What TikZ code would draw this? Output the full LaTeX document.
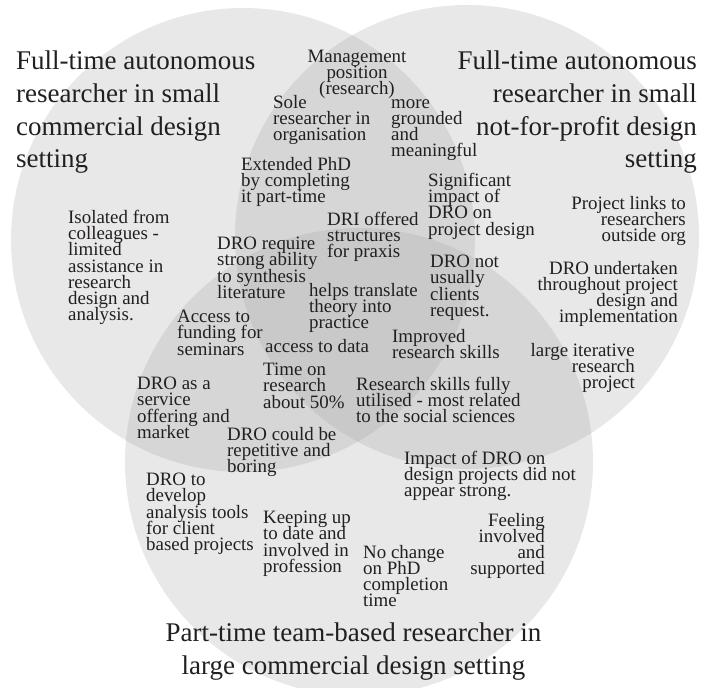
\documentclass[tikz,border=0pt]{standalone}
\usepackage{fontspec}
\setmainfont{Liberation Serif}
\definecolor{cone}{RGB}{232,232,232}
\definecolor{ctwo}{RGB}{214,214,214}
\definecolor{cthree}{RGB}{201,201,201}
\definecolor{txt}{RGB}{35,31,32}
\tikzset{
  sm/.style={font={\fontsize{18.9}{16.2}\selectfont\lineskiplimit=-100pt}, inner sep=0pt, text=txt, execute at begin node={\rule{0pt}{14pt}}},
  ttl/.style={font={\fontsize{27}{32.6}\selectfont\lineskiplimit=-100pt}, inner sep=0pt, text=txt, execute at begin node={\rule{0pt}{22pt}}},
  lw/.style={anchor=north west, align=left},
  rw/.style={anchor=north east, align=right},
  cw/.style={anchor=north, align=center}
}
\begin{document}
\begin{tikzpicture}[x=1pt,y=-1pt]
\useasboundingbox (0,0) rectangle (713,688);
\clip (0,0) rectangle (713,688);
% circles
\fill[cone] (243,240) circle[radius=232pt];
\fill[cone] (467,237) circle[radius=232pt];
\fill[cone] (359,462) circle[radius=234pt];
\begin{scope}
  \clip (243,240) circle[radius=232pt];
  \fill[ctwo] (467,237) circle[radius=232pt];
  \fill[ctwo] (359,462) circle[radius=234pt];
\end{scope}
\begin{scope}
  \clip (467,237) circle[radius=232pt];
  \fill[ctwo] (359,462) circle[radius=234pt];
\end{scope}
\begin{scope}
  \clip (243,240) circle[radius=232pt];
  \clip (467,237) circle[radius=232pt];
  \fill[cthree] (359,462) circle[radius=234pt];
\end{scope}
% titles
\node[ttl,lw] (tl) at (16,51) {Full-time autonomous\\researcher in small\\commercial design\\setting};
\node[ttl,rw] (tr) at (697,51) {Full-time autonomous\\researcher in small\\not-for-profit design\\setting};
\node[ttl,cw] (tb) at (353.5,623) {Part-time team-based researcher in\\large commercial design setting};
% small texts
\node[sm,cw] (n3) at (357,50) {Management\\position\\(research)};
\node[sm,lw] (n4) at (273,95) {Sole\\researcher in\\organisation};
\node[sm,lw] (n5) at (391,99) {more\\grounded\\and\\meaningful};
\node[sm,lw] (n6) at (241,157) {Extended PhD\\by completing\\it part-time};
\node[sm,lw] (n7) at (428,173) {Significant\\impact of\\DRO on\\project design};
\node[sm,rw] (n8) at (686,196) {Project links to\\researchers\\outside org};
\node[sm,lw] (n9) at (68,210) {Isolated from\\colleagues -\\limited\\assistance in\\research\\design and\\analysis.};
\node[sm,lw] (n10) at (327,212) {DRI offered\\structures\\for praxis};
\node[sm,lw] (n11) at (217,237) {DRO require\\strong ability\\to synthesis\\literature};
\node[sm,lw] (n12) at (430,255) {DRO not\\usually\\clients\\request.};
\node[sm,rw] (n13) at (678,261) {DRO undertaken\\throughout project\\design and\\implementation};
\node[sm,lw] (n14) at (309,283) {helps translate\\theory into\\practice};
\node[sm,lw] (n15) at (177,310) {Access to\\funding for\\seminars};
\node[sm,lw] (n16) at (265,338) {access to data};
\node[sm,lw] (n17) at (392,329) {Improved\\research skills};
\node[sm,rw] (n18) at (635,343) {large iterative\\research\\project};
\node[sm,lw] (n19) at (263,363) {Time on\\research\\about 50\%};
\node[sm,lw] (n20) at (137,377) {DRO as a\\service\\offering and\\market};
\node[sm,lw] (n21) at (356,377) {Research skills fully\\utilised - most related\\to the social sciences};
\node[sm,lw] (n22) at (227,427) {DRO could be\\repetitive and\\boring};
\node[sm,lw] (n23) at (404,451) {Impact of DRO on\\design projects did not\\appear strong.};
\node[sm,lw] (n24) at (146,473) {DRO to\\develop\\analysis tools\\for client\\based projects};
\node[sm,lw] (n25) at (263,511) {Keeping up\\to date and\\involved in\\profession};
\node[sm,rw] (n26) at (545,513) {Feeling\\involved\\and\\supported};
\node[sm,lw] (n27) at (363,545) {No change\\on PhD\\completion\\time};
\end{tikzpicture}
\end{document}
